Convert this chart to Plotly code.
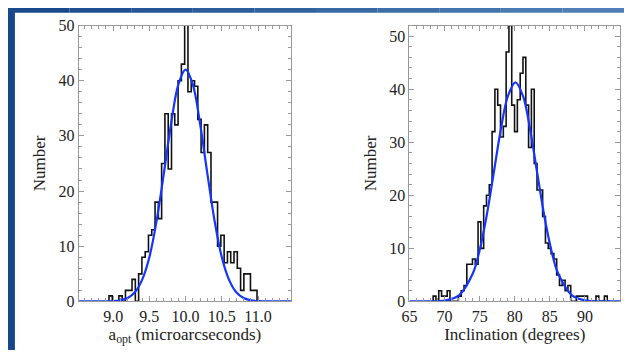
import plotly.graph_objects as go

# ---------------- data ----------------
# Left panel: histogram of a_opt (microarcseconds)
a_bin_start = 8.943
a_bin_width = 0.0454
a_counts = [1, 0, 0, 1, 0, 2, 2, 4, 0, 5, 8, 9, 12, 13, 18, 15, 25, 34, 24, 34,
            32, 40, 43, 51, 38, 40, 39, 33, 27, 32, 27, 18, 18, 10, 12, 7, 9, 7,
            9, 6, 2, 5, 5, 2, 2, 0]
# Gaussian fit curve
a_fit_x = [8.53, 8.8, 9.0, 9.1, 9.2, 9.3, 9.4, 9.5, 9.6, 9.7, 9.8, 9.9, 10.0,
           10.1, 10.2, 10.3, 10.4, 10.5, 10.6, 10.7, 10.8, 10.9, 11.0, 11.2, 11.46]
a_fit_y = [0, 0, 0.06, 0.2, 0.61, 1.65, 3.9, 8.0, 14.6, 23.2, 32.2, 39.3, 42.0,
           39.3, 32.2, 23.2, 14.6, 8.0, 3.9, 1.65, 0.61, 0.2, 0.06, 0, 0]

# Right panel: histogram of inclination (degrees)
i_bin_start = 68.37
i_bin_width = 0.4
i_counts = [1, 0, 2, 1, 1, 2, 0, 0, 0, 1, 2, 3, 7, 7, 8, 7, 15, 10, 18, 20,
            22, 32, 40, 37, 31, 33, 47, 52, 37, 32, 38, 43, 46, 37, 29, 40, 26,
            21, 21, 16, 11, 10, 9, 8, 5, 3, 4, 2, 3, 0, 0, 1, 1, 1, 1, 0, 0, 0,
            1, 0, 0, 1, 0]
i_fit_x = [65, 68, 70, 72, 74, 75, 76, 77, 78, 79, 80.1, 81.2, 82.2, 83.2, 84.2,
           85.2, 86.2, 88.2, 90.2, 92.2, 95]
i_fit_y = [0, 0.01, 0.14, 1.08, 5.2, 9.7, 16.2, 24.2, 32.3, 38.6, 41.3, 38.6,
           32.3, 24.2, 16.2, 9.7, 5.2, 1.08, 0.14, 0.01, 0]

a_ticks = [9.0, 9.5, 10.0, 10.5, 11.0]
i_ticks = [65, 70, 75, 80, 85, 90]
y_ticks = [0, 10, 20, 30, 40, 50]


def step_xy(start, width, counts):
    xs = [start]
    ys = [0]
    for k, c in enumerate(counts):
        xs.append(start + k * width)
        ys.append(c)
    xs.append(start + len(counts) * width)
    ys.append(counts[-1])
    xs.append(start + len(counts) * width)
    ys.append(0)
    return xs, ys


FONT = "Liberation Serif, Times New Roman, serif"
HIST_COLOR = "#111111"
FIT_COLOR = "#1535ff"
FRAME = "#9a9a9a"

fig = go.Figure()

ax, ay = step_xy(a_bin_start, a_bin_width, a_counts)
fig.add_trace(go.Scatter(x=ax, y=ay, mode="lines", line=dict(color=HIST_COLOR, width=1.6, shape="hv"),
                         xaxis="x", yaxis="y", showlegend=False))
fig.add_trace(go.Scatter(x=a_fit_x, y=a_fit_y, mode="lines",
                         line=dict(color=FIT_COLOR, width=2.2, shape="spline", smoothing=1.0),
                         xaxis="x", yaxis="y", showlegend=False))

ix, iy = step_xy(i_bin_start, i_bin_width, i_counts)
fig.add_trace(go.Scatter(x=ix, y=iy, mode="lines", line=dict(color=HIST_COLOR, width=1.6, shape="hv"),
                         xaxis="x2", yaxis="y2", showlegend=False))
fig.add_trace(go.Scatter(x=i_fit_x, y=i_fit_y, mode="lines",
                         line=dict(color=FIT_COLOR, width=2.2, shape="spline", smoothing=1.0),
                         xaxis="x2", yaxis="y2", showlegend=False))

W, H = 624, 359
ydom = [(H - 308) / H, (H - 18.4) / H]

common = dict(showline=True, linecolor=FRAME, linewidth=1, mirror="allticks",
              ticks="inside", ticklen=5, tickcolor=FRAME, tickwidth=1,
              showgrid=False, zeroline=False,
              tickfont=dict(family=FONT, size=16, color="#222222"))

fig.update_layout(
    width=W, height=H, autosize=False,
    margin=dict(l=0, r=0, t=0, b=0),
    paper_bgcolor="white", plot_bgcolor="white",
    xaxis=dict(domain=[71.7 / W, 286.7 / W], range=[8.526, 11.455], anchor="y",
               tickvals=a_ticks, ticktext=[f"{v:.1f}" for v in a_ticks],
               minor=dict(tickmode="linear", tick0=8.5, dtick=0.1, ticks="inside", ticklen=3,
                          tickcolor=FRAME),
               title=dict(text="a<sub>opt</sub> (microarcseconds)", standoff=3,
                          font=dict(family=FONT, size=17, color="#222222")),
               **common),
    yaxis=dict(domain=ydom, range=[0, 50], anchor="x", tickvals=y_ticks,
               minor=dict(tickmode="linear", tick0=0, dtick=2, ticks="inside", ticklen=3,
                          tickcolor=FRAME),
               title=dict(text="Number", standoff=8,
                          font=dict(family=FONT, size=17, color="#222222")),
               **common),
    xaxis2=dict(domain=[406.7 / W, 620 / W], range=[65, 95], anchor="y2",
                tickvals=i_ticks,
                minor=dict(tickmode="linear", tick0=65, dtick=1, ticks="inside", ticklen=3,
                           tickcolor=FRAME),
                title=dict(text="Inclination (degrees)", standoff=3,
                           font=dict(family=FONT, size=17, color="#222222")),
                **common),
    yaxis2=dict(domain=ydom, range=[0, 52], anchor="x2", tickvals=y_ticks,
                minor=dict(tickmode="linear", tick0=0, dtick=2, ticks="inside", ticklen=3,
                           tickcolor=FRAME),
                title=dict(text="Number", standoff=8,
                           font=dict(family=FONT, size=17, color="#222222")),
                **common),
)

# blue slide-frame strips (left and top)
shapes = []
shapes.append(dict(type="rect", xref="paper", yref="paper", x0=0, x1=7 / W, y0=0, y1=1,
                   fillcolor="#17478a", line=dict(width=0), layer="below"))
top_cols = ["#1b4a8b", "#20508f", "#265694", "#2c5c99", "#32629e", "#3868a3",
            "#3e6ea8", "#4474ad", "#4a7ab2", "#4f7fb6"]
n = len(top_cols)
for k, c in enumerate(top_cols):
    shapes.append(dict(type="rect", xref="paper", yref="paper", x0=k / n, x1=(k + 1) / n,
                       y0=(H - 5) / H, y1=1, fillcolor=c, line=dict(width=0), layer="below"))
fig.update_layout(shapes=shapes)

fig.write_html(
    "out.html",
    config={"responsive": False, "displayModeBar": False, "staticPlot": True},
    post_script=(
        "document.documentElement.style.margin='0';"
        "document.body.style.margin='0';document.body.style.padding='0';"
        "document.documentElement.style.overflow='hidden';"
        "var d=document.getElementById('{plot_id}');"
        "d.style.position='absolute';d.style.left='0px';d.style.top='0px';"
        "window.scrollTo(0,0);"
    ),
)
